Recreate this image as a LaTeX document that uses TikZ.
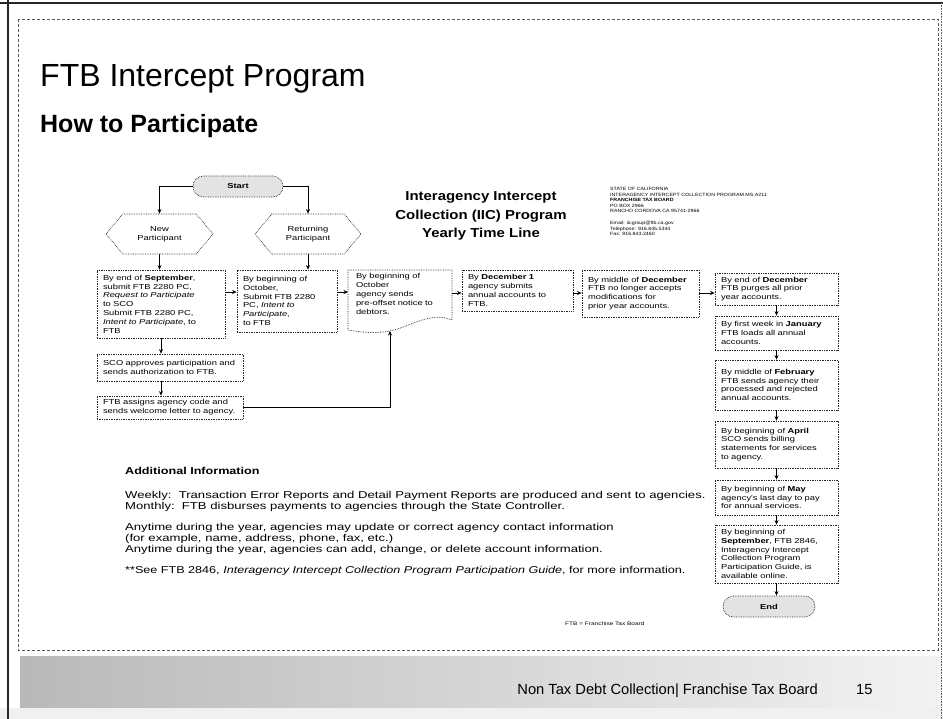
\documentclass[tikz,border=0pt]{standalone}
\usepackage{fontspec}
\setmainfont{Liberation Sans}
\newfontfamily\bx[FakeStretch=1.3]{Liberation Sans}
\newfontfamily\ai[FakeStretch=1.31]{Liberation Sans}
\newfontfamily\aib[FakeStretch=1.26]{Liberation Sans}
\newfontfamily\ttl[FakeStretch=1.15]{Liberation Sans}
\usetikzlibrary{shapes.misc,shapes.symbols,arrows.meta,calc}
\begin{document}
\begin{tikzpicture}[x=1pt,y=-1pt,
  bxs/.style={draw=black!85, densely dotted, line width=0.7pt, rectangle, align=left,
    font=\bx\fontsize{7.2}{8.8}\selectfont, inner sep=0pt},
  hexa/.style={draw=black!85, densely dotted, line width=0.7pt, shape=signal,
    signal to=east and west, signal pointer angle=100, align=center,
    font=\bx\fontsize{7.2}{8.8}\selectfont, inner sep=0pt},
  term/.style={draw=black!85, densely dotted, line width=0.7pt, shape=rounded rectangle,
    fill=gray!22, font=\bx\bfseries\fontsize{7.2}{8.8}\selectfont, inner sep=0pt},
  arr/.style={-{Stealth[length=4.5pt,width=4pt]}, line width=0.8pt, black},
  plain/.style={inner sep=0pt, align=left}
]
\useasboundingbox (0,0) rectangle (943,719);
\fill[white] (0,0) rectangle (943,719);
% frame
\fill[gray!12] (0,708) rectangle (943,719);
\fill[left color=gray!55, right color=gray!10] (20,656) rectangle (941,707);
\draw[black!85, line width=1.6pt] (8,0) -- (8,719);
\draw[black!85, line width=1.4pt] (0,3) -- (943,3);
\draw[black!60, densely dotted, line width=0.6pt] (941,3) -- (941,719);
\draw[black!65, densely dashed, line width=0.6pt] (18,19) rectangle (938,650);

% titles
\node[plain, anchor=base west, font=\fontsize{32}{36}\selectfont] (title) at (40,87) {FTB Intercept Program};
\node[plain, anchor=base west, font=\bfseries\fontsize{25}{28}\selectfont] (sub) at (40,133) {How to Participate};
\node[plain, align=center, font=\ttl\bfseries\fontsize{13}{18.5}\selectfont] (iic) at (481,216)
  {Interagency Intercept\\Collection (IIC) Program\\Yearly Time Line};
\node[plain, anchor=north west, font=\ttl\fontsize{4.6}{5.6}\selectfont] (addr) at (610,187)
  {STATE OF CALIFORNIA\\INTERAGENCY INTERCEPT COLLECTION PROGRAM MS A211\\\textbf{FRANCHISE TAX BOARD}\\PO BOX 2966\\RANCHO CORDOVA CA 95741-2966\\[6pt]Email: iicgroup@ftb.ca.gov\\Telephone: 916.845.5344\\Fax: 916.843.2460};

% flow nodes
\node[term, minimum width=90pt, minimum height=21pt] (start) at (238,186.5) {Start};
\node[hexa, minimum width=107pt, minimum height=40pt] (newp) at (159.5,234) {New\\Participant};
\node[hexa, minimum width=106pt, minimum height=40pt] (retp) at (308,234) {Returning\\Participant};

\node[bxs, minimum width=128pt, minimum height=68pt, text width=116pt] (b1) at (161,304)
  {By end of \textbf{September},\\submit FTB 2280 PC,\\\textit{Request to Participate}\\to SCO\\Submit FTB 2280 PC,\\\textit{Intent to Participate}, to\\FTB};
\node[bxs, minimum width=100pt, minimum height=62pt, text width=88pt] (b2) at (287,301)
  {By beginning of\\October,\\Submit FTB 2280\\PC, \textit{Intent to}\\\textit{Participate},\\to FTB};
\node[plain, text width=90pt, font=\bx\fontsize{7.2}{8.8}\selectfont] (doc) at (401,294)
  {By beginning of\\October\\agency sends\\pre-offset notice to\\debtors.};
\draw[black!85, densely dotted, line width=0.7pt] (348,270) -- (452,270) -- (452,320)
  .. controls (430,311) and (410,327) .. (390,331)
  .. controls (374,334) and (360,332) .. (348,330) -- cycle;
\coordinate (docb) at (390,331);
\node[bxs, minimum width=111pt, minimum height=41pt, text width=99pt] (b4) at (517.5,290.5)
  {By \textbf{December 1}\\agency submits\\annual accounts to\\FTB.};
\node[bxs, minimum width=117pt, minimum height=47pt, text width=105pt] (b5) at (640.5,293.5)
  {By middle of \textbf{December}\\FTB no longer accepts\\modifications for\\prior year accounts.};
\node[bxs, minimum width=123pt, minimum height=32pt, text width=111pt] (b6) at (776.5,289)
  {By end of \textbf{December}\\FTB purges all prior\\year accounts.};
\node[bxs, minimum width=123pt, minimum height=34pt, text width=111pt] (b7) at (776.5,333)
  {By first week in \textbf{January}\\FTB loads all annual\\accounts.};
\node[bxs, minimum width=123pt, minimum height=50pt, text width=111pt] (b8) at (776.5,385)
  {By middle of \textbf{February}\\FTB sends agency their\\processed and rejected\\annual accounts.};
\node[bxs, minimum width=123pt, minimum height=47pt, text width=111pt] (b9) at (776.5,444.5)
  {By beginning of \textbf{April}\\SCO sends billing\\statements for services\\to agency.};
\node[bxs, minimum width=123pt, minimum height=35pt, text width=111pt] (b10) at (776.5,497.5)
  {By beginning of \textbf{May}\\agency's last day to pay\\for annual services.};
\node[bxs, minimum width=123pt, minimum height=58pt, text width=111pt] (b11) at (776.5,554)
  {By beginning of\\\textbf{September}, FTB 2846,\\Interagency Intercept\\Collection Program\\Participation Guide, is\\available online.};
\node[term, minimum width=92pt, minimum height=21pt] (end) at (769,606.5) {End};
\node[bxs, minimum width=146pt, minimum height=27pt, text width=134pt] (sco) at (170,367.5)
  {SCO approves participation and\\sends authorization to FTB.};
\node[bxs, minimum width=146pt, minimum height=23pt, text width=134pt] (ftb) at (170,407.5)
  {FTB assigns agency code and\\sends welcome letter to agency.};

% connectors
\coordinate (r1) at (0,292);
\coordinate (r2) at (0,293);
\draw[arr] (start.west) -| (newp.north);
\draw[arr] (start.east) -| (retp.north);
\draw[arr] (newp.south) -- (newp.south |- b1.north);
\draw[arr] (retp.south) -- (retp.south |- b2.north);
\draw[arr] (b1.east |- r1) -- (b2.west |- r1);
\draw[arr] (b2.east |- r1) -- (348,292);
\draw[arr] (452,293) -- (b4.west |- r2);
\draw[arr] (b4.east |- r2) -- (b5.west |- r2);
\draw[arr] (b5.east |- r2) -- (b6.west |- r2);
\draw[arr] (b1.south) -- (b1.south |- sco.north);
\draw[arr] (b1.south |- sco.south) -- (b1.south |- ftb.north);
\draw[arr] (ftb.east) -| (docb);
\draw[arr] (b6.south) -- (b7.north);
\draw[arr] (b7.south) -- (b8.north);
\draw[arr] (b8.south) -- (b9.north);
\draw[arr] (b9.south) -- (b10.north);
\draw[arr] (b10.south) -- (b11.north);
\draw[arr] (b11.south) -- (b11.south |- end.north);

% additional information
\node[plain, anchor=north west, font=\ai\fontsize{10}{11}\selectfont] (info) at (125,467)
  {{\aib\bfseries Additional Information}\\[13pt]
   Weekly:\ \ Transaction Error Reports and Detail Payment Reports are produced and sent to agencies.\\
   Monthly:\ \ FTB disburses payments to agencies through the State Controller.\\[10pt]
   Anytime during the year, agencies may update or correct agency contact information\\
   (for example, name, address, phone, fax, etc.)\\
   Anytime during the year, agencies can add, change, or delete account information.\\[10pt]
   {\aib **See FTB 2846, \textit{Interagency Intercept Collection Program Participation Guide}, for more information.}};
\node[plain, anchor=base west, font=\bx\fontsize{5}{6}\selectfont] (note) at (565,625) {FTB = Franchise Tax Board};

% footer
\node[plain, anchor=base east, font=\fontsize{14.7}{16}\selectfont] (foot) at (818,694)
  {Non Tax Debt Collection| Franchise Tax Board};
\node[plain, anchor=base west, font=\fontsize{14.7}{16}\selectfont] (page) at (856,694) {15};
\end{tikzpicture}
\end{document}
